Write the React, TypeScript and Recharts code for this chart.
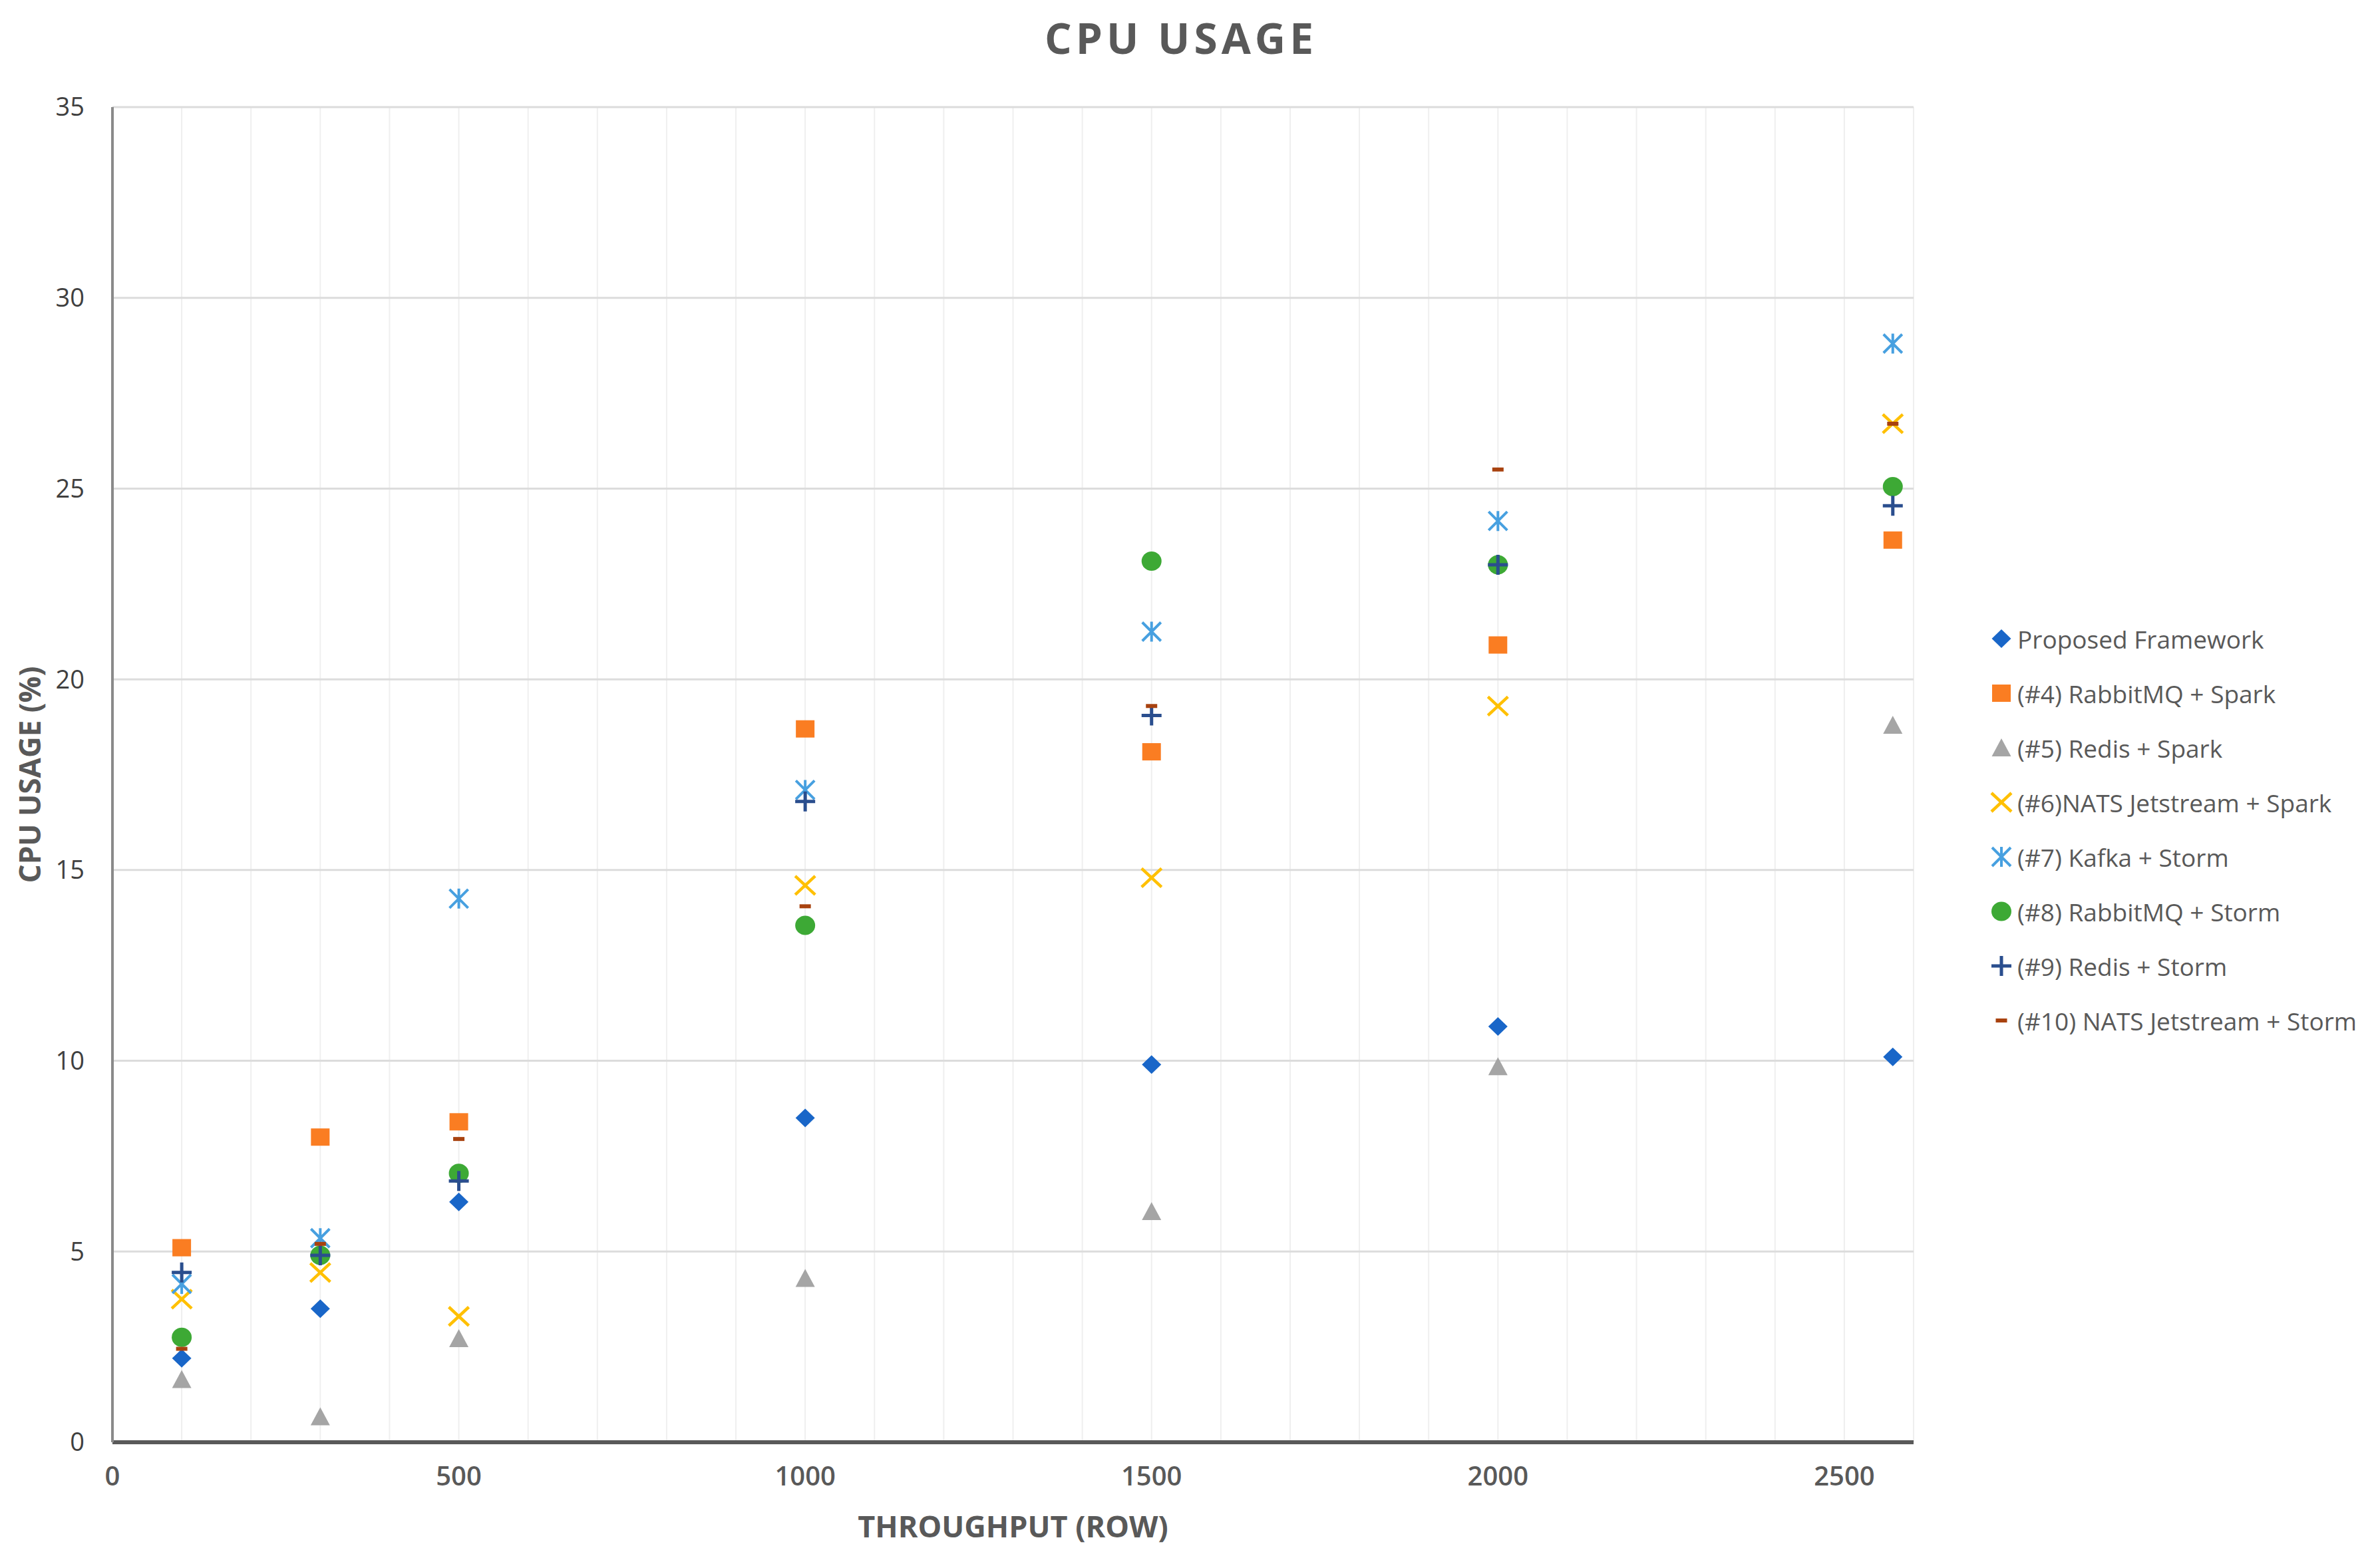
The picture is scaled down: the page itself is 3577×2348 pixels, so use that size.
import { ScatterChart, Scatter, XAxis, YAxis, CartesianGrid, Legend } from 'recharts'

const THROUGHPUT = [100, 300, 500, 1000, 1500, 2000, 2570]

const PROPOSED = [2.2, 3.5, 6.3, 8.5, 9.9, 10.9, 10.1]
const RABBIT_SPARK = [5.1, 8.0, 8.4, 18.7, 18.1, 20.9, 23.65]
const REDIS_SPARK = [1.65, 0.67, 2.72, 4.3, 6.05, 9.85, 18.8]
const NATS_SPARK = [3.75, 4.45, 3.3, 14.6, 14.8, 19.3, 26.7]
const KAFKA_STORM = [4.15, 5.35, 14.25, 17.1, 21.25, 24.15, 28.8]
const RABBIT_STORM = [2.75, 4.9, 7.05, 13.55, 23.1, 23.0, 25.05]
const REDIS_STORM = [4.45, 4.9, 6.85, 16.8, 19.05, 23.0, 24.55]
const NATS_STORM = [2.45, 5.2, 7.95, 14.05, 19.3, 25.5, 26.7]

const X_TICKS = [0, 500, 1000, 1500, 2000, 2500]
const Y_TICKS = [0, 5, 10, 15, 20, 25, 30, 35]
const GRID_X = [
  0, 100, 200, 300, 400, 500, 600, 700, 800, 900, 1000, 1100, 1200, 1300,
  1400, 1500, 1600, 1700, 1800, 1900, 2000, 2100, 2200, 2300, 2400, 2500, 2600,
]

type Kind = 'diamond' | 'square' | 'triangle' | 'x' | 'star' | 'circle' | 'plus' | 'dash'

const SERIES: { name: string; values: number[]; kind: Kind; color: string }[] = [
  { name: 'Proposed Framework', values: PROPOSED, kind: 'diamond', color: '#1966C8' },
  { name: '(#4) RabbitMQ + Spark', values: RABBIT_SPARK, kind: 'square', color: '#FA7D22' },
  { name: '(#5) Redis + Spark', values: REDIS_SPARK, kind: 'triangle', color: '#A5A5A5' },
  { name: '(#6)NATS Jetstream + Spark', values: NATS_SPARK, kind: 'x', color: '#FFC000' },
  { name: '(#7) Kafka + Storm', values: KAFKA_STORM, kind: 'star', color: '#47A0E0' },
  { name: '(#8) RabbitMQ + Storm', values: RABBIT_STORM, kind: 'circle', color: '#3DA935' },
  { name: '(#9) Redis + Storm', values: REDIS_STORM, kind: 'plus', color: '#2A4E8E' },
  { name: '(#10) NATS Jetstream + Storm', values: NATS_STORM, kind: 'dash', color: '#A8420F' },
]

const FONT = '"Open Sans", sans-serif'
const TEXT = '#595959'

function Marker({ kind, color, cx, cy }: { kind: Kind; color: string; cx: number; cy: number }) {
  switch (kind) {
    case 'diamond':
      return <path d={`M${cx},${cy - 14}L${cx + 14.5},${cy}L${cx},${cy + 14}L${cx - 14.5},${cy}Z`} fill={color} />
    case 'square':
      return <rect x={cx - 14} y={cy - 13} width={28} height={26} fill={color} />
    case 'triangle':
      return <path d={`M${cx},${cy - 14}L${cx + 14.5},${cy + 13}L${cx - 14.5},${cy + 13}Z`} fill={color} />
    case 'circle':
      return <ellipse cx={cx} cy={cy} rx={15} ry={14.5} fill={color} />
    case 'x':
      return (
        <path
          d={`M${cx - 15},${cy - 14}L${cx + 15},${cy + 14}M${cx + 15},${cy - 14}L${cx - 15},${cy + 14}`}
          stroke={color}
          strokeWidth={4.5}
          fill="none"
        />
      )
    case 'star':
      return (
        <path
          d={`M${cx - 14},${cy - 14}L${cx + 14},${cy + 14}M${cx + 14},${cy - 14}L${cx - 14},${cy + 14}M${cx},${cy - 15}L${cx},${cy + 15}`}
          stroke={color}
          strokeWidth={4}
          fill="none"
        />
      )
    case 'plus':
      return (
        <path
          d={`M${cx - 15},${cy}L${cx + 15},${cy}M${cx},${cy - 15}L${cx},${cy + 15}`}
          stroke={color}
          strokeWidth={5}
          fill="none"
        />
      )
    case 'dash':
      return <rect x={cx - 8.5} y={cy - 3} width={17} height={6} fill={color} />
  }
}

// legend entries follow the series order (Recharts' payload order is not reliable here)
function LegendBox() {
  return (
    <div style={{ fontFamily: FONT, fontSize: 37, color: TEXT }}>
      {SERIES.map((s) => (
        <div key={s.name} style={{ display: 'flex', alignItems: 'center', height: 82, whiteSpace: 'nowrap' }}>
          <svg width={40} height={40} style={{ flex: 'none' }}>
            <Marker kind={s.kind} color={s.color} cx={20} cy={20} />
          </svg>
          <span style={{ marginLeft: 4 }}>{s.name}</span>
        </div>
      ))}
    </div>
  )
}

export default function App() {
  return (
    <div style={{ position: 'relative', width: 3561, height: 2332, background: '#fff' }}>
      <div
        style={{
          position: 'absolute',
          left: 1767 - 500,
          width: 1000,
          top: 12,
          textAlign: 'center',
          fontFamily: FONT,
          fontWeight: 700,
          fontSize: 64,
          letterSpacing: 6,
          color: TEXT,
          lineHeight: '74px',
        }}
      >
        CPU USAGE
      </div>
      <ScatterChart width={3561} height={2332} margin={{ top: 153, right: 693, bottom: 92, left: 61 }}>
        <CartesianGrid horizontal={false} verticalValues={GRID_X} stroke="#EFEFEF" strokeWidth={2} />
        <CartesianGrid vertical={false} horizontalValues={Y_TICKS} stroke="#DCDCDC" strokeWidth={3} />
        <XAxis
          type="number"
          dataKey="x"
          domain={[0, 2600]}
          ticks={X_TICKS}
          interval={0}
          height={80}
          tickLine={false}
          tickMargin={31}
          axisLine={{ stroke: '#5A5A5A', strokeWidth: 6 }}
          tick={{ fontFamily: FONT, fontSize: 40, fontWeight: 600, fill: TEXT }}
          label={(p: any) => {
            const vb = p.viewBox
            return (
              <text
                x={vb.x + vb.width / 2}
                y={vb.y + 125}
                textAnchor="middle"
                dominantBaseline="central"
                fontFamily={FONT}
                fontWeight={700}
                fontSize={45}
                fill={TEXT}
              >
                THROUGHPUT (ROW)
              </text>
            )
          }}
        />
        <YAxis
          type="number"
          dataKey="y"
          domain={[0, 35]}
          ticks={Y_TICKS}
          interval={0}
          width={100}
          tickLine={false}
          tickMargin={36}
          axisLine={{ stroke: '#8A8A8A', strokeWidth: 4 }}
          tick={{ fontFamily: FONT, fontSize: 38, fill: '#404040' }}
          label={(p: any) => {
            const vb = p.viewBox
            const cy = vb.y + vb.height / 2
            return (
              <text
                x={36}
                y={cy}
                transform={`rotate(-90 36 ${cy})`}
                textAnchor="middle"
                dominantBaseline="central"
                fontFamily={FONT}
                fontWeight={700}
                fontSize={44}
                fill={TEXT}
              >
                CPU USAGE (%)
              </text>
            )
          }}
        />
        <Legend
          layout="vertical"
          align="center"
          verticalAlign="middle"
          wrapperStyle={{ left: 2980, top: 911, width: 580 }}
          content={() => <LegendBox />}
        />
        {SERIES.map((s) => (
          <Scatter
            key={s.name}
            name={s.name}
            data={THROUGHPUT.map((x, i) => ({ x, y: s.values[i] }))}
            fill={s.color}
            isAnimationActive={false}
            shape={(p: any) => <Marker kind={s.kind} color={s.color} cx={p.cx} cy={p.cy} />}
          />
        ))}
      </ScatterChart>
    </div>
  )
}
